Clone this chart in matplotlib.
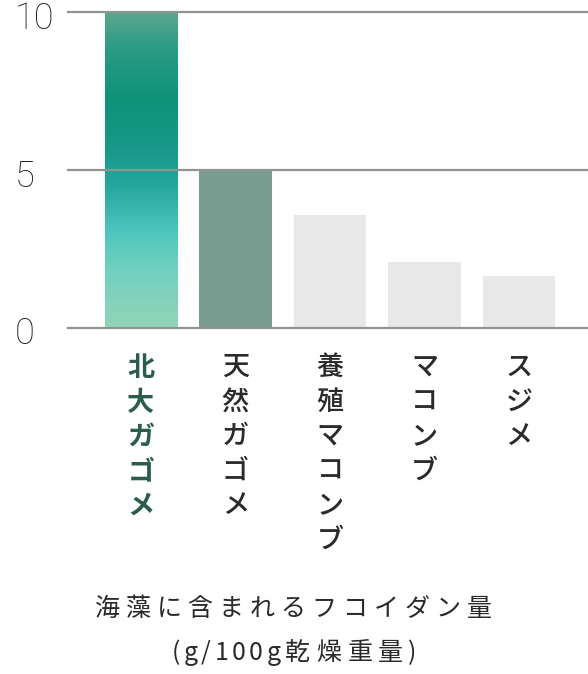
import numpy as np
import matplotlib
matplotlib.use("Agg")
import matplotlib.pyplot as plt
import matplotlib.transforms as mtransforms
from matplotlib.colors import LinearSegmentedColormap

plt.rcParams['font.family'] = ['Noto Sans CJK JP', 'DejaVu Sans']

# data
categories = ['北大ガゴメ', '天然ガゴメ', '養殖マコンブ', 'マコンブ', 'スジメ']
values = [10, 5, 3.55, 2.08, 1.63]
yticks = [0, 5, 10]
title_lines = ['海藻に含まれるフコイダン量', '(g/100g乾燥重量)']

bar_colors = [None, '#7a9b90', '#e8e8e8', '#e8e8e8', '#e8e8e8']
grad = LinearSegmentedColormap.from_list('kombu', [
    (0.00, '#92d4b8'), (0.18, '#70d0c0'), (0.30, '#4ec6be'),
    (0.45, '#25a69c'), (0.55, '#1a998c'), (0.72, '#0e927a'),
    (0.88, '#2a9b84'), (1.00, '#5ca88e')])

W, H = 588, 674
fig = plt.figure(figsize=(W / 100, H / 100), dpi=100)
ax = fig.add_axes([68 / W, 1 - 327.5 / H, 520 / W, 315.5 / H])
ax.axis('off')

x = np.arange(len(categories))
bw = 0.77
bars = ax.bar(x, values, width=bw, color=[c or 'none' for c in bar_colors], zorder=2)

# gradient fill for the first bar
g = np.linspace(0, 1, 256).reshape(-1, 1)
im = ax.imshow(g, cmap=grad, origin='lower', aspect='auto', zorder=2,
               extent=(x[0] - bw / 2, x[0] + bw / 2, 0, values[0]))
im.set_clip_path(bars[0])
ax.set_xlim(-0.772, 4.73)
ax.set_ylim(0, 10)

for t in yticks:
    ax.axhline(t, color='#8e958e', lw=1.6, zorder=3, clip_on=False)
    ax.text((15 - 68) / 520, t - 0.22, str(t), transform=ax.get_yaxis_transform(),
            ha='left', va='center', fontsize=26, color='#222222',
            family=['Roboto', 'DejaVu Sans'], fontweight='light')

# vertical category labels
tr = mtransforms.blended_transform_factory(ax.transData, fig.transFigure)
for i, name in enumerate(categories):
    col = '#2b5d4b' if i == 0 else '#2a2a2a'
    wt = 'bold' if i == 0 else 'medium'
    for k, ch in enumerate(name):
        ypx = 354 + k * 34.5
        ax.text(x[i], 1 - ypx / H, ch, transform=tr, ha='center', va='top',
                fontsize=19.5, color=col, fontweight=wt)


def spaced(s, xc, ypx, size, gap, gap_narrow):
    r = fig.canvas.get_renderer()
    ws = []
    for ch in s:
        t = fig.text(0, 0, ch, fontsize=size)
        ws.append(t.get_window_extent(r).width)
        t.remove()
    gaps = []
    for a, b in zip(s[:-1], s[1:]):
        wide = (ord(a) > 255) + (ord(b) > 255)
        gaps.append(gap_narrow + (gap - gap_narrow) * wide / 2)
    total = sum(ws) + sum(gaps)
    xx = xc - total / 2
    for k, (ch, w) in enumerate(zip(s, ws)):
        fig.text(xx / W, 1 - ypx / H, ch, fontsize=size, color='#2a2a2a',
                 ha='left', va='center')
        if k < len(gaps):
            xx += w + gaps[k]


spaced(title_lines[0], 293, 609, 18, 6, 3)
spaced(title_lines[1], 294, 653, 18, 6, 3.5)

fig.savefig('out.png', dpi=100)
